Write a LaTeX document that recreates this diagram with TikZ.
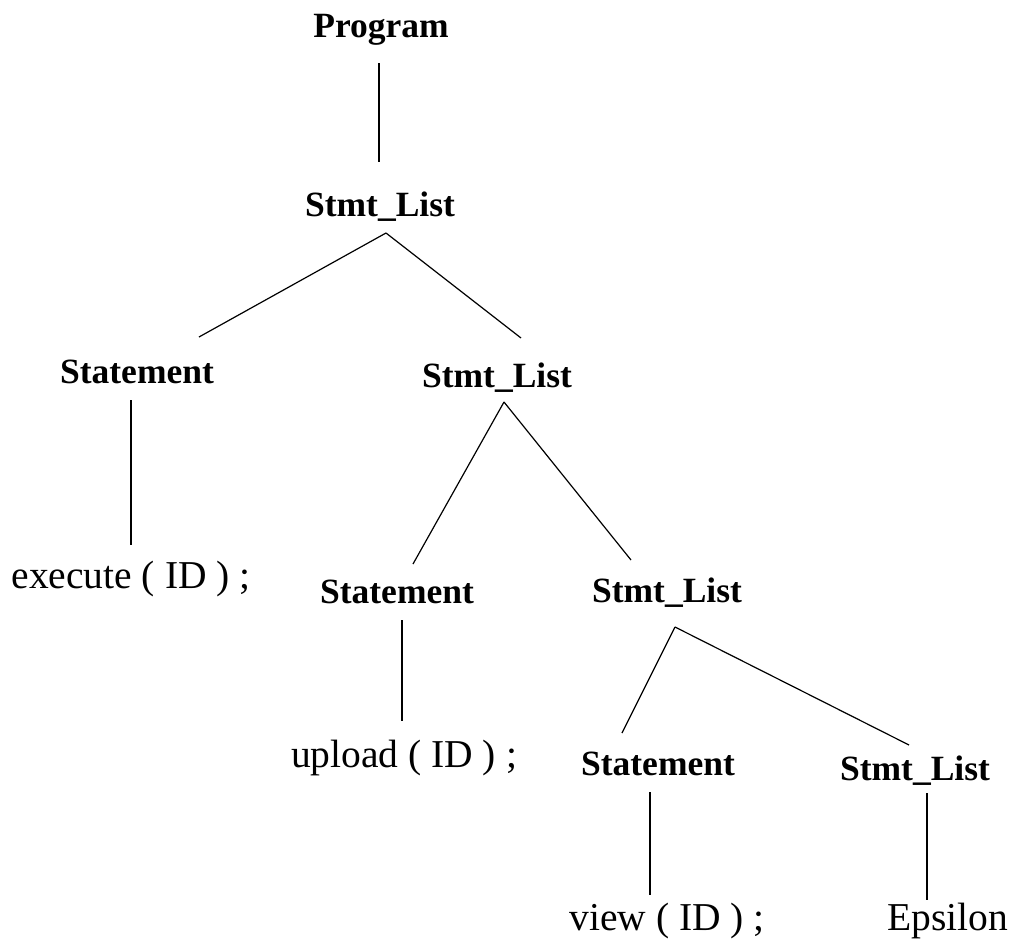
\documentclass[tikz,border=0pt]{standalone}
\usepackage{fontspec}
\setmainfont{Liberation Serif}
\usetikzlibrary{calc}
\newcommand\ntfont{\bfseries\fontsize{35.5}{41}\selectfont}
\newcommand\tmfont{\fontsize{39.5}{45}\selectfont}
\tikzset{
  nt/.style={font=\ntfont, inner sep=0pt, anchor=base},
  tm/.style={font=\tmfont, inner sep=0pt, anchor=base},
  edge/.style={line width=1.2pt, draw=black}
}
\begin{document}
\begin{tikzpicture}[x=1pt, y=-1pt]
\useasboundingbox[fill=white] (0,0) rectangle (1014,943);

% nonterminals
\node[nt] (prog) at (381,37)  {Program};
\node[nt] (sl1)  at (380,216) {Stmt\_List};
\node[nt] (st1)  at (137,383) {Statement};
\node[nt] (sl2)  at (497,387) {Stmt\_List};
\node[nt] (st2)  at (397,603) {Statement};
\node[nt] (sl3)  at (667,602) {Stmt\_List};
\node[nt] (st3)  at (658,775) {Statement};
\node[nt] (sl4)  at (915,780) {Stmt\_List};

% terminals
\node[tm] (exe)  at (131,588) {execute ( ID ) ;};
\node[tm] (upl)  at (404,767) {upload ( ID ) ;};
\node[tm] (view) at (667,930) {view ( ID ) ;};
\node[tm] (eps)  at (948,930) {Epsilon};

% edges
\draw[edge] ($(prog.base)+(-2,26)$) -- ($(sl1.base)+(-1,-54)$);

\draw[edge] ($(sl1.base)+(6,17)$) -- ($(st1.base)+(62,-46)$);
\draw[edge] ($(sl1.base)+(6,17)$) -- ($(sl2.base)+(24,-49)$);
\draw[edge] ($(st1.base)+(-6,17)$) -- ($(exe.base)+(0,-43)$);

\draw[edge] ($(sl2.base)+(7,15)$) -- ($(st2.base)+(16,-39)$);
\draw[edge] ($(sl2.base)+(7,15)$) -- ($(sl3.base)+(-36,-42)$);
\draw[edge] ($(st2.base)+(5,17)$) -- ($(upl.base)+(-2,-46)$);

\draw[edge] ($(sl3.base)+(8,25)$) -- ($(st3.base)+(-36,-42)$);
\draw[edge] ($(sl3.base)+(8,25)$) -- ($(sl4.base)+(-6,-35)$);
\draw[edge] ($(st3.base)+(-8,17)$) -- ($(view.base)+(-17,-35)$);
\draw[edge] ($(sl4.base)+(12,13)$) -- ($(eps.base)+(-21,-30)$);
\end{tikzpicture}
\end{document}
